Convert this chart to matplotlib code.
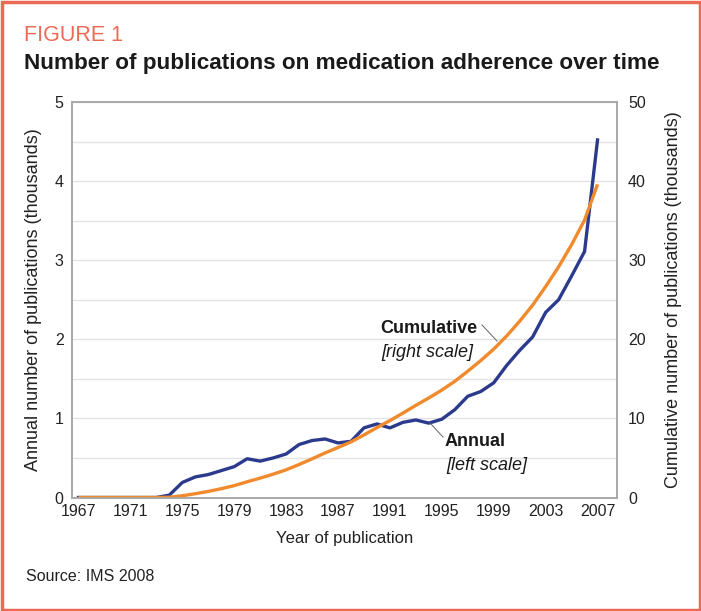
import matplotlib
matplotlib.use("Agg")
import matplotlib.pyplot as plt
from matplotlib.patches import Rectangle
from matplotlib.lines import Line2D

plt.rcParams["font.family"] = ["Liberation Sans", "DejaVu Sans"]

# values (thousands of publications)
years = list(range(1967, 2008))
annual = [0.0, 0.0, 0.0, 0.0, 0.0, 0.0, 0.0,
          0.03, 0.19, 0.26, 0.29, 0.34, 0.39, 0.49, 0.46, 0.50, 0.55,
          0.67, 0.72, 0.74, 0.69, 0.71, 0.88, 0.93, 0.88, 0.95, 0.98,
          0.94, 0.99, 1.11, 1.28, 1.34, 1.45, 1.67, 1.86, 2.03, 2.34,
          2.50, 2.80, 3.11, 4.52]
cumulative = [0.0, 0.0, 0.0, 0.0, 0.0, 0.0, 0.0,
              0.03, 0.22, 0.48, 0.77, 1.11, 1.50, 1.99, 2.45, 2.95, 3.50,
              4.17, 4.89, 5.63, 6.32, 7.03, 7.91, 8.84, 9.72, 10.67, 11.65,
              12.59, 13.58, 14.69, 15.97, 17.31, 18.76, 20.43, 22.29, 24.32, 26.66,
              29.16, 31.96, 35.07, 39.59]
xticks = list(range(1967, 2008, 4))

W, H = 701, 611
NAVY = "#2b3a8c"
ORANGE = "#f08a2c"
CORAL = "#ec6a55"

fig = plt.figure(figsize=(W / 100, H / 100), dpi=100)
fig.patch.set_facecolor("white")

def fx(px):
    return px / W

def fy(py):
    return 1 - py / H

# outer frame
fig.patches.append(Rectangle((fx(1.5), fy(H - 1.5)), fx(W - 3), 1 - 3 / H,
                             transform=fig.transFigure, fill=False,
                             edgecolor=CORAL, linewidth=2.5))

ax = fig.add_axes([fx(72), fy(497.5), fx(617 - 72), (497.5 - 102) / H])
ax2 = ax.twinx()

ax.set_xlim(1966.5, 2008.5)
ax.set_ylim(0, 5)
ax2.set_ylim(0, 50)

ax.set_yticks([0, 0.5, 1, 1.5, 2, 2.5, 3, 3.5, 4, 4.5, 5])
ax.set_yticklabels(["0", "", "1", "", "2", "", "3", "", "4", "", "5"])
ax2.set_yticks([0, 10, 20, 30, 40, 50])
ax.set_xticks(xticks)
ax.grid(axis="y", color="#e3e3e3", linewidth=1)
ax.set_axisbelow(True)

for a in (ax, ax2):
    for s in a.spines.values():
        s.set_color("#a8a8a8")
        s.set_linewidth(1.2)
    a.tick_params(length=0, labelsize=11.5, colors="#222222")
ax.tick_params(axis="y", pad=6)
ax2.tick_params(axis="y", pad=8)
ax.tick_params(axis="x", pad=5)

ax.plot(years, annual, color=NAVY, linewidth=2.4, solid_joinstyle="round")
ax2.plot(years, cumulative, color=ORANGE, linewidth=2.4, solid_capstyle="butt")

ax.set_ylabel("Annual number of publications (thousands)", fontsize=13, color="#222222", labelpad=9)
ax2.set_ylabel("Cumulative number of publications (thousands)", fontsize=13, color="#222222", labelpad=14)
ax.set_xlabel("Year of publication", fontsize=12, color="#222222", labelpad=8)

# titles and source
fig.text(fx(24), fy(41), "FIGURE 1", fontsize=15.5, color=CORAL, va="baseline")
fig.text(fx(24), fy(69), "Number of publications on medication adherence over time",
         fontsize=16.2, fontweight="bold", color="#1a1a1a", va="baseline")
fig.text(fx(26), fy(581), "Source: IMS 2008", fontsize=11.5, color="#222222", va="baseline")

# inline labels
fig.text(fx(380), fy(333), "Cumulative", fontsize=13, fontweight="bold", color="#1a1a1a", va="baseline")
fig.text(fx(381), fy(357), "[right scale]", fontsize=13, fontstyle="italic", color="#1a1a1a", va="baseline")
fig.text(fx(445), fy(446), "Annual", fontsize=13, fontweight="bold", color="#1a1a1a", va="baseline")
fig.text(fx(446), fy(470), "[left scale]", fontsize=13, fontstyle="italic", color="#1a1a1a", va="baseline")

fig.lines.append(Line2D([fx(482), fx(497)], [fy(325), fy(341)], transform=fig.transFigure,
                        color="#666666", linewidth=0.7))
fig.lines.append(Line2D([fx(430), fx(443)], [fy(423), fy(437)], transform=fig.transFigure,
                        color="#666666", linewidth=0.7))

fig.savefig("out.png", dpi=100, facecolor="white")
